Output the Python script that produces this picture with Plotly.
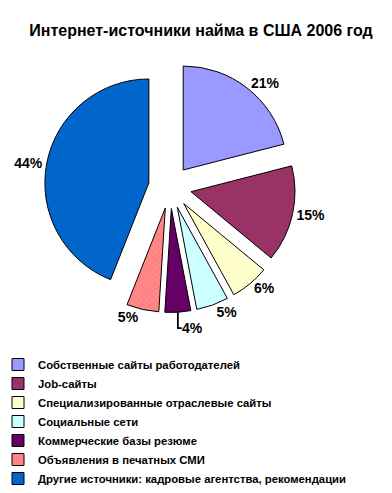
import plotly.graph_objects as go

labels = ["Собственные сайты работодателей", "Job-сайты",
          "Специализированные отраслевые сайты", "Социальные сети",
          "Коммерческие базы резюме", "Объявления в печатных СМИ",
          "Другие источники: кадровые агентства, рекомендации"]
values = [21, 15, 6, 5, 4, 5, 44]
colors = ["#9999FF", "#993366", "#FFFFCC", "#CCFFFF", "#660066", "#FF8080", "#0066CC"]

W, H = 392, 493
fig = go.Figure(go.Pie(
    labels=labels, values=values, sort=False, direction="clockwise", rotation=0,
    pull=[0.207] * len(values),
    marker=dict(colors=colors, line=dict(color="black", width=1),
                pattern=dict(shape=["", "", "", "", "", "x", ""], size=4, solidity=0.25,
                             fgcolor="#FFB0B0", fillmode="overlay")),
    textinfo="percent", texttemplate="<b>%{percent:.0%}</b>",
    textposition="outside",
    textfont=dict(family="Arial", size=14, color="black"),
    domain=dict(x=[44.5 / W, 295.5 / W], y=[1 - 312.5 / H, 1 - 61.5 / H]),
    hoverinfo="label+percent",
))
fig.update_layout(
    width=W, height=H, margin=dict(l=0, r=0, t=0, b=0, autoexpand=False),
    paper_bgcolor="white", plot_bgcolor="white",
    title=dict(text="<b>Интернет-источники найма в США 2006 год</b>",
               x=201 / W, xanchor="center", y=1 - 30 / H, yanchor="middle",
               font=dict(family="Arial", size=16, color="black")),
    legend=dict(x=-2 / W, xanchor="left", y=1 - 350 / H, yanchor="top",
                font=dict(family="Arial", size=11.3, color="black", weight="bold"),
                traceorder="normal", itemwidth=30, tracegroupgap=0),
    showlegend=True,
)
fig.write_html("out.html")
